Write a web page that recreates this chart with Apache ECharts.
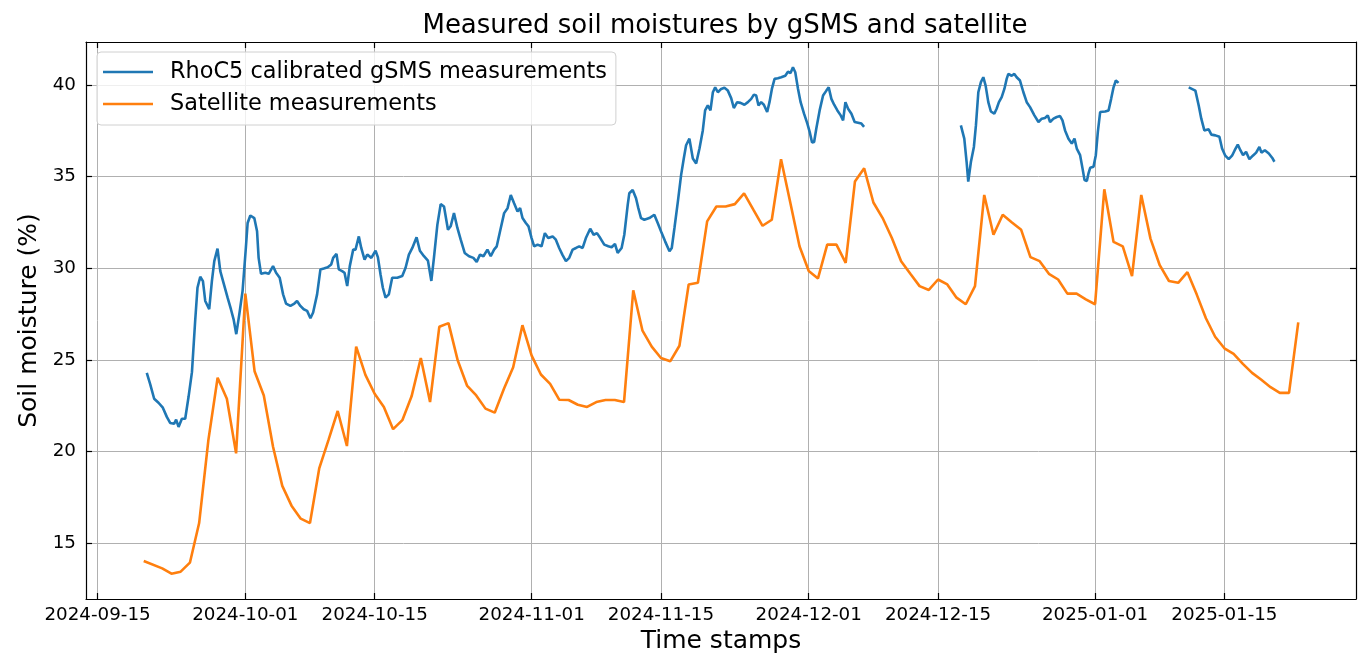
<!DOCTYPE html>
<html><head><meta charset="utf-8">
<script src="https://cdn.jsdelivr.net/npm/echarts@6/dist/echarts.min.js"></script>
<style>html,body{margin:0;padding:0;background:#fff}#c{width:1358px;height:659px}</style>
</head><body><div id="c"></div>
<script>
const titleText = 'Measured soil moistures by gSMS and satellite';
const xAxisTitle = 'Time stamps';
const yAxisTitle = 'Soil moisture (%)';
const seriesNames = ['RhoC5 calibrated gSMS measurements', 'Satellite measurements'];
const xTickLabels = ['2024-09-15','2024-10-01','2024-10-15','2024-11-01','2024-11-15','2024-12-01','2024-12-15','2025-01-01','2025-01-15'];
const yTickValues = [15, 20, 25, 30, 35, 40];
const baseDate = '2024-09-15';

// gSMS measurements: day offset from baseDate, value (%) — three segments separated by gaps
const gsmsDays1 = [5.33,5.69,6.13,6.60,7.07,7.50,7.86,8.30,8.51,8.77,9.13,9.49,9.85,10.22,10.57,10.82,11.12,11.41,11.66,12.09,12.38,12.64,12.99,13.29,13.64,14.08,14.44,14.73,15.02,15.35,15.70,16.03,16.25,16.54,16.97,17.27,17.44,17.70,18.17,18.53,19.00,19.33,19.72,20.09,20.41,20.88,21.31,21.60,21.96,22.32,22.69,23.05,23.34,23.77,24.13,24.49,24.92,25.30,25.51,25.87,26.12,26.48,26.74,27.03,27.31,27.68,27.93,28.29,28.55,28.91,29.20,29.64,30.10,30.35,30.64,30.89,31.18,31.54,31.90,32.45,32.99,33.35,33.71,34.08,34.54,34.90,35.34,35.77,36.14,36.42,36.79,37.15,37.51,37.94,38.23,38.59,38.96,39.32,39.75,40.22,40.69,41.05,41.41,41.78,42.21,42.57,42.93,43.22,43.58,44.02,44.39,44.74,45.10,45.47,45.75,46.01,46.37,46.66,46.99,47.27,47.64,48.07,48.43,48.79,49.27,49.62,49.98,50.35,50.71,51.07,51.44,51.80,52.15,52.52,52.87,53.34,53.71,54.07,54.43,54.86,55.30,55.66,56.02,56.31,56.74,57.03,57.40,57.57,57.94,58.30,58.55,58.84,59.20,59.74,60.28,60.65,61.08,61.45,61.92,62.17,62.46,62.83,63.18,63.47,63.72,64.08,64.45,64.81,65.17,65.53,65.78,66.07,66.36,66.62,66.87,67.16,67.52,67.87,68.24,68.60,68.89,69.25,69.61,70.04,70.41,70.77,71.06,71.31,71.56,71.85,72.14,72.50,72.75,73.01,73.30,73.66,74.02,74.46,74.75,75.03,75.29,75.54,75.84,76.12,76.49,76.85,77.10,77.36,77.58,77.82,78.18,78.55,78.91,79.16,79.45,79.75,80.10,80.46,80.72,80.97,81.26,81.62,81.97,82.34,82.70,82.99];
const gsmsVals1 = [24.30,23.70,22.89,22.67,22.40,21.90,21.57,21.53,21.75,21.35,21.80,21.80,22.98,24.34,27.14,28.94,29.54,29.30,28.22,27.77,29.30,30.39,31.07,29.85,29.21,28.40,27.77,27.22,26.41,27.50,28.76,30.93,32.47,32.88,32.74,32.02,30.57,29.70,29.76,29.70,30.12,29.76,29.49,28.58,28.08,27.95,28.08,28.22,27.95,27.77,27.68,27.28,27.59,28.58,29.94,29.99,30.06,30.21,30.57,30.79,29.94,29.85,29.76,29.03,30.12,31.02,31.02,31.74,31.11,30.48,30.75,30.57,30.96,30.61,29.66,28.94,28.40,28.58,29.49,29.49,29.58,30.03,30.75,31.11,31.69,30.96,30.66,30.42,29.31,30.57,32.37,33.50,33.37,32.10,32.29,33.01,32.20,31.56,30.84,30.66,30.57,30.35,30.75,30.66,31.02,30.66,31.02,31.20,32.02,33.01,33.28,34.00,33.55,33.10,33.28,32.74,32.47,32.29,31.65,31.20,31.29,31.20,31.92,31.65,31.74,31.56,31.11,30.72,30.39,30.57,31.02,31.11,31.20,31.11,31.65,32.16,31.83,31.92,31.65,31.29,31.20,31.15,31.33,30.84,31.11,31.83,33.46,34.09,34.27,33.82,33.28,32.74,32.65,32.74,32.92,32.47,31.92,31.47,30.93,31.11,32.20,33.64,35.08,35.99,36.71,37.07,35.99,35.72,36.53,37.52,38.61,38.88,38.61,39.60,39.87,39.60,39.78,39.84,39.69,39.28,38.74,39.06,39.02,38.92,39.06,39.24,39.47,39.42,38.88,39.06,38.92,38.52,39.06,39.78,40.33,40.36,40.42,40.50,40.72,40.65,40.96,40.69,39.78,39.06,38.43,37.89,37.44,36.86,36.89,37.62,38.61,39.42,39.69,39.87,39.24,38.92,38.61,38.34,38.07,39.06,38.70,38.43,37.98,37.94,37.89,37.71];
const gsmsDays2 = [93.47,93.84,94.09,94.27,94.56,94.88,95.10,95.36,95.64,95.90,96.15,96.44,96.72,97.09,97.34,97.59,97.89,98.18,98.43,98.61,98.97,99.26,99.51,99.87,100.24,100.60,100.96,101.43,101.87,102.23,102.58,102.88,103.13,103.50,103.85,104.21,104.47,104.75,105.12,105.48,105.77,106.02,106.38,106.64,106.86,107.11,107.29,107.47,107.83,108.08,108.30,108.55,109.09,109.46,109.74,110.00,110.25,110.54];
const gsmsVals2 = [37.79,37.07,35.81,34.73,35.81,36.62,37.79,39.60,40.15,40.42,39.96,39.06,38.55,38.43,38.70,39.06,39.33,39.78,40.33,40.60,40.50,40.60,40.42,40.24,39.60,39.06,38.79,38.34,37.98,38.16,38.20,38.34,37.98,38.16,38.25,38.30,38.07,37.52,37.07,36.80,37.07,36.53,36.17,35.45,34.81,34.76,35.18,35.48,35.54,36.17,37.44,38.52,38.55,38.61,39.24,39.87,40.24,40.11];
const gsmsDays3 = [118.14,118.86,119.22,119.50,119.83,120.30,120.59,121.03,121.46,121.75,122.10,122.47,122.83,123.12,123.45,123.73,124.02,124.35,124.71,125.08,125.44,125.79,126.01,126.38,126.81,127.17,127.42];
const gsmsVals3 = [39.87,39.69,38.88,38.16,37.52,37.58,37.29,37.25,37.17,36.53,36.14,35.95,36.14,36.44,36.75,36.44,36.17,36.35,35.95,36.14,36.31,36.62,36.31,36.44,36.26,36.03,35.81];

// Satellite measurements (daily)
const satDates = ['2024-09-20','2024-09-22','2024-09-23','2024-09-24','2024-09-25','2024-09-26','2024-09-27','2024-09-28','2024-09-29','2024-09-30','2024-10-01','2024-10-02','2024-10-03','2024-10-04','2024-10-05','2024-10-06','2024-10-07','2024-10-08','2024-10-09','2024-10-10','2024-10-11','2024-10-12','2024-10-13','2024-10-14','2024-10-15','2024-10-16','2024-10-17','2024-10-18','2024-10-19','2024-10-20','2024-10-21','2024-10-22','2024-10-23','2024-10-24','2024-10-25','2024-10-26','2024-10-27','2024-10-28','2024-10-29','2024-10-30','2024-10-31','2024-11-01','2024-11-02','2024-11-03','2024-11-04','2024-11-05','2024-11-06','2024-11-07','2024-11-08','2024-11-09','2024-11-10','2024-11-11','2024-11-12','2024-11-13','2024-11-14','2024-11-15','2024-11-16','2024-11-17','2024-11-18','2024-11-19','2024-11-20','2024-11-21','2024-11-22','2024-11-23','2024-11-24','2024-11-25','2024-11-26','2024-11-27','2024-11-28','2024-11-29','2024-11-30','2024-12-01','2024-12-02','2024-12-03','2024-12-04','2024-12-05','2024-12-06','2024-12-07','2024-12-08','2024-12-09','2024-12-10','2024-12-11','2024-12-12','2024-12-13','2024-12-14','2024-12-15','2024-12-16','2024-12-17','2024-12-18','2024-12-19','2024-12-20','2024-12-21','2024-12-22','2024-12-23','2024-12-24','2024-12-25','2024-12-26','2024-12-27','2024-12-28','2024-12-29','2024-12-30','2024-12-31','2025-01-01','2025-01-02','2025-01-03','2025-01-04','2025-01-05','2025-01-06','2025-01-07','2025-01-08','2025-01-09','2025-01-10','2025-01-11','2025-01-12','2025-01-13','2025-01-14','2025-01-15','2025-01-16','2025-01-17','2025-01-18','2025-01-19','2025-01-20','2025-01-21','2025-01-22','2025-01-23'];
const satValues = [14.04,13.64,13.35,13.46,13.95,16.11,20.63,24.03,22.89,19.91,28.62,24.39,23.07,20.27,18.14,17.06,16.35,16.11,19.09,20.63,22.22,20.31,25.73,24.19,23.16,22.44,21.23,21.72,23.02,25.11,22.71,26.81,27.01,24.97,23.61,23.07,22.35,22.13,23.43,24.61,26.90,25.24,24.21,23.70,22.83,22.82,22.56,22.44,22.71,22.82,22.82,22.71,28.80,26.60,25.73,25.11,24.93,25.78,29.12,29.21,32.56,33.37,33.37,33.50,34.09,33.20,32.32,32.65,35.95,33.59,31.20,29.85,29.45,31.29,31.29,30.30,34.73,35.45,33.59,32.74,31.65,30.39,29.70,29.03,28.82,29.39,29.12,28.40,28.04,29.03,34.00,31.83,32.92,32.50,32.10,30.61,30.39,29.70,29.39,28.62,28.62,28.31,28.04,34.31,31.44,31.20,29.58,34.00,31.62,30.17,29.31,29.21,29.79,28.58,27.28,26.27,25.64,25.33,24.79,24.30,23.92,23.52,23.21,23.21,27.05];

const DAY = 86400000;
const toMs = s => Date.parse(s + 'T00:00:00Z');
const base = toMs(baseDate);
const xTickValues = xTickLabels.map(toMs);
const xMin = base - 1.25 * DAY, xMax = base + 136.25 * DAY;
const yMin = 11.97, yMax = 42.34;

function seg(days, vals) { return days.map((d, i) => [base + d * DAY, vals[i]]); }
const gsmsData = [].concat(
  seg(gsmsDays1, gsmsVals1), [[base + 88 * DAY, null]],
  seg(gsmsDays2, gsmsVals2), [[base + 114 * DAY, null]],
  seg(gsmsDays3, gsmsVals3));
const satData = satDates.map((d, i) => [toMs(d), satValues[i]]);

const FONT = 'DejaVu Sans';
const labelMap = {}; xTickValues.forEach((v, i) => labelMap[v] = xTickLabels[i]);
const spine = { show: true, onZero: false, lineStyle: { color: '#000', width: 1.2 } };
const gridLine = { show: true, lineStyle: { color: '#b0b0b0', width: 1 } };

const chart = echarts.init(document.getElementById('c'), null, { renderer: 'canvas' });
chart.setOption({
  animation: false,
  backgroundColor: '#fff',
  title: {
    text: titleText, left: 720, top: 8, textAlign: 'center',
    textStyle: { fontFamily: FONT, fontSize: 26, fontWeight: 'normal', color: '#000' }
  },
  legend: {
    orient: 'vertical', left: 97, top: 52,
    padding: [8, 9, 9, 6], itemGap: 8,
    itemWidth: 50, itemHeight: 2.6, icon: 'rect',
    backgroundColor: 'rgba(255,255,255,0.8)', borderColor: '#d0d0d0', borderWidth: 1, borderRadius: 4,
    textStyle: { fontFamily: FONT, fontSize: 22.4, color: '#000', lineHeight: 24, padding: [0, 0, 0, 12] },
    data: seriesNames
  },
  grid: { left: 86, right: 2, top: 42, bottom: 56 },
  xAxis: [{
    type: 'value', position: 'bottom', min: xMin, max: xMax,
    axisLine: spine,
    axisTick: { show: true, inside: true, length: 6, lineStyle: { color: '#000', width: 1.2 }, customValues: xTickValues },
    axisLabel: { customValues: xTickValues, formatter: v => labelMap[v] || '', fontFamily: FONT, fontSize: 18.3, color: '#000', margin: 7 },
    splitLine: gridLine,
    name: xAxisTitle, nameLocation: 'middle', nameGap: 30,
    nameTextStyle: { fontFamily: FONT, fontSize: 25, color: '#000' }
  }, {
    type: 'value', position: 'top', min: xMin, max: xMax,
    axisLine: spine,
    axisTick: { show: true, inside: true, length: 6, lineStyle: { color: '#000', width: 1.2 }, customValues: xTickValues },
    axisLabel: { show: false, customValues: xTickValues },
    splitLine: { show: false }
  }],
  yAxis: [{
    type: 'value', position: 'left', min: yMin, max: yMax,
    axisLine: spine,
    axisTick: { show: true, inside: true, length: 6, lineStyle: { color: '#000', width: 1.2 }, customValues: yTickValues },
    axisLabel: { customValues: yTickValues, fontFamily: FONT, fontSize: 18.3, color: '#000', margin: 10 },
    splitLine: gridLine,
    name: yAxisTitle, nameLocation: 'middle', nameGap: 38, nameRotate: 90,
    nameTextStyle: { fontFamily: FONT, fontSize: 25, color: '#000' }
  }, {
    type: 'value', position: 'right', min: yMin, max: yMax,
    axisLine: spine,
    axisTick: { show: true, inside: true, length: 6, lineStyle: { color: '#000', width: 1.2 }, customValues: yTickValues },
    axisLabel: { show: false, customValues: yTickValues },
    splitLine: { show: false }
  }],
  series: [{
    name: seriesNames[0], type: 'line', data: gsmsData, xAxisIndex: 0, yAxisIndex: 0,
    showSymbol: false, connectNulls: false,
    lineStyle: { color: '#1f77b4', width: 2.6 }, itemStyle: { color: '#1f77b4' }, z: 3
  }, {
    name: seriesNames[1], type: 'line', data: satData, xAxisIndex: 0, yAxisIndex: 0,
    showSymbol: false,
    lineStyle: { color: '#ff7f0e', width: 2.6 }, itemStyle: { color: '#ff7f0e' }, z: 3
  }]
});
</script></body></html>
